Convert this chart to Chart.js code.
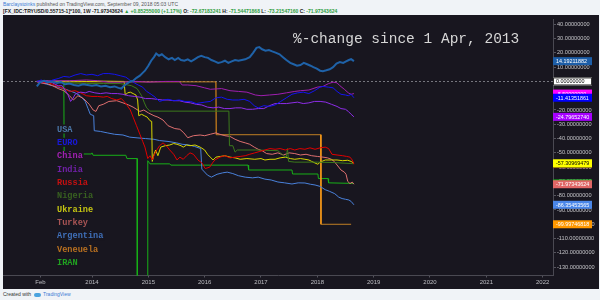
<!DOCTYPE html>
<html><head><meta charset="utf-8">
<script src="https://cdn.jsdelivr.net/npm/chart.js@4/dist/chart.umd.min.js"></script>
<style>
html,body{margin:0;padding:0;background:#f0f3f7;width:600px;height:300px;overflow:hidden;font-family:"Liberation Sans",Arial,sans-serif;}
.t{position:absolute;left:3px;white-space:nowrap;font-size:5px;line-height:6px;}
#h1{top:1px;color:#555;}
#h1 b{color:#3a7bd5;font-weight:normal;}
#h2{top:8px;color:#222;font-weight:bold;}
#h2 .g{color:#2e9e3e;}
#wrap{position:absolute;left:3px;top:15px;width:596px;height:274px;background:#18161f;}
#foot{top:291px;color:#333;}
#foot .l{display:inline-block;width:7px;height:4px;background:#4aa3df;border-radius:2px;margin:0 2px 0 3px;vertical-align:middle;}
#foot .b{color:#3a7bd5;}
</style></head>
<body>
<div id="h1" class="t"><b>Barclaystoinks</b> published on TradingView.com, September 09, 2018 05:03 UTC</div>
<div id="h2" class="t">[FX_IDC:TRYUSD/0.55715-1]*100, 1W -71.97343624 <span class="g">▲ +0.85255000 (+1.17%)</span> O: <span class="g">-72.67183241</span> H: <span class="g">-71.54471868</span> L: <span class="g">-73.21547160</span> C: <span class="g">-71.97343624</span></div>
<div id="wrap"><canvas id="c" width="596" height="274"></canvas></div>
<div id="foot" class="t">Created with<span class="l"></span><span class="b">TradingView</span></div>
<script>
// ---- data (x = decimal year, y = % change) ----
const titleText = "%-change since 1 Apr, 2013";
const seriesNames = ["USA","EURO","China","India","Russia","Nigeria","Ukraine","Turkey","Argentina","Veneuela","IRAN"];
const xTickValues = [2013.085,2014,2015,2016,2017,2018,2019,2020,2021,2022];
const xTickLabels = ["Feb","2014","2015","2016","2017","2018","2019","2020","2021","2022"];
const yTickValues = [40,30,20,10,0,-10,-20,-30,-40,-50,-60,-70,-80,-90,-100,-110,-120,-130];

const usa = [[2013.02,-3.4],[2013.08,-0.5],[2013.15,0.5],[2013.22,-0.5],[2013.3,0],[2013.38,-1],[2013.45,-0.5],[2013.52,-2],[2013.6,-1.5],[2013.68,-2.5],[2013.76,-3],[2013.84,-2],[2013.92,-2.5],[2014.0,-3],[2014.08,-2.5],[2014.16,-3.5],[2014.24,-3],[2014.32,-4],[2014.4,-3.5],[2014.47,-4.5],[2014.52,-5],[2014.57,-3],[2014.62,-1.5],[2014.68,0],[2014.73,0.5],[2014.79,2.5],[2014.85,4],[2014.9,6],[2014.94,7.5],[2015.0,11],[2015.05,14.5],[2015.1,17],[2015.14,19.5],[2015.19,18],[2015.24,19],[2015.3,17],[2015.36,15.5],[2015.42,16.5],[2015.47,15],[2015.53,16.5],[2015.58,15],[2015.64,14.5],[2015.7,15.5],[2015.76,14],[2015.82,15.5],[2015.88,17],[2015.94,18],[2016.0,17],[2016.06,16.5],[2016.12,15],[2016.18,14],[2016.24,13],[2016.3,13.5],[2016.36,14.5],[2016.42,13],[2016.48,14],[2016.54,15],[2016.6,14.5],[2016.66,15],[2016.72,15.5],[2016.8,17],[2016.86,20],[2016.92,23.5],[2016.97,24],[2017.02,22.5],[2017.08,21.5],[2017.14,22],[2017.2,21],[2017.27,20],[2017.33,19],[2017.39,17],[2017.45,15],[2017.52,13],[2017.58,12],[2017.64,11],[2017.7,11.5],[2017.76,13],[2017.82,12],[2017.88,11],[2017.93,10],[2017.99,9],[2018.05,7.5],[2018.1,7.2],[2018.16,7.8],[2018.22,8.5],[2018.28,10],[2018.34,12.5],[2018.4,13.5],[2018.46,13],[2018.51,14],[2018.56,15],[2018.6,15.6],[2018.65,14.19211882]];
const euro = [[2013.02,0],[2013.1,1],[2013.2,-1],[2013.3,1],[2013.4,2],[2013.5,3.5],[2013.6,3],[2013.7,4.5],[2013.8,5.5],[2013.9,4.5],[2014.0,5],[2014.1,4],[2014.2,5.5],[2014.3,5.5],[2014.4,5],[2014.5,4],[2014.6,3],[2014.67,1],[2014.75,-1],[2014.82,-2.5],[2014.9,-4],[2014.97,-7],[2015.05,-9],[2015.12,-11],[2015.2,-14],[2015.28,-13],[2015.35,-12.5],[2015.45,-13.5],[2015.55,-13],[2015.65,-14],[2015.75,-14],[2015.85,-15.5],[2015.92,-15],[2016.0,-14.5],[2016.1,-14],[2016.2,-11.5],[2016.3,-11],[2016.4,-12.5],[2016.5,-13],[2016.6,-13],[2016.7,-12.5],[2016.8,-14],[2016.88,-17],[2016.95,-18.5],[2017.05,-17],[2017.15,-17.5],[2017.25,-16.5],[2017.35,-14],[2017.45,-11.5],[2017.55,-9],[2017.65,-8],[2017.75,-7.5],[2017.85,-8.5],[2017.95,-6.5],[2018.05,-4],[2018.1,-3.5],[2018.2,-4],[2018.28,-4.5],[2018.35,-7],[2018.42,-9],[2018.5,-9.5],[2018.55,-10],[2018.6,-9],[2018.65,-11.41351861]];
const china = [[2013.02,0],[2013.3,0.5],[2013.6,0.5],[2013.9,1],[2014.1,0.5],[2014.3,-0.5],[2014.5,-0.5],[2014.8,0],[2015.0,-0.5],[2015.3,0],[2015.55,0],[2015.6,-2.5],[2015.7,-2.5],[2015.85,-3],[2016.0,-4.5],[2016.1,-5.5],[2016.3,-5],[2016.45,-6.5],[2016.6,-7],[2016.75,-7.5],[2016.9,-9.5],[2017.0,-10],[2017.15,-9.5],[2017.3,-9],[2017.45,-8],[2017.6,-7],[2017.7,-6.5],[2017.85,-6],[2018.0,-4],[2018.1,-3.5],[2018.2,-1.5],[2018.28,-0.5],[2018.35,-1],[2018.4,-3],[2018.48,-5.5],[2018.55,-8],[2018.6,-9],[2018.65,-8.5]];
const india = [[2013.02,0],[2013.1,-0.5],[2013.2,0.5],[2013.3,-1],[2013.4,-3],[2013.47,-3],[2013.52,-6],[2013.57,-9],[2013.62,-14],[2013.66,-12],[2013.7,-9],[2013.75,-8],[2013.8,-7.5],[2013.88,-8],[2013.95,-7],[2014.05,-8],[2014.15,-8.5],[2014.25,-8],[2014.35,-8.5],[2014.45,-8.5],[2014.55,-9],[2014.65,-10],[2014.75,-10.5],[2014.85,-11],[2014.95,-12],[2015.05,-12],[2015.15,-12.5],[2015.25,-13],[2015.35,-13],[2015.45,-13.5],[2015.55,-13.5],[2015.65,-14.5],[2015.75,-15],[2015.85,-16],[2015.95,-16.5],[2016.05,-18],[2016.15,-18.5],[2016.25,-18],[2016.35,-19],[2016.45,-19],[2016.55,-18.5],[2016.65,-18.5],[2016.75,-19.5],[2016.85,-19.5],[2016.95,-19],[2017.05,-19],[2017.15,-17],[2017.25,-15.5],[2017.35,-15.5],[2017.45,-15.5],[2017.55,-15],[2017.65,-14.5],[2017.75,-15.5],[2017.85,-15],[2017.95,-14],[2018.05,-14],[2018.15,-14.5],[2018.25,-16],[2018.35,-17.5],[2018.42,-19],[2018.5,-19.5],[2018.55,-21],[2018.6,-23],[2018.65,-24.7965274]];
const russia = [[2013.02,0],[2013.1,-1],[2013.2,-0.5],[2013.3,-2],[2013.4,-3.5],[2013.5,-5],[2013.6,-7],[2013.7,-6.5],[2013.8,-8],[2013.9,-10],[2014.0,-10.5],[2014.1,-10.5],[2014.2,-11],[2014.27,-10.5],[2014.35,-12],[2014.44,-13],[2014.52,-12],[2014.57,-14],[2014.62,-16.6],[2014.68,-20],[2014.73,-25],[2014.79,-31],[2014.85,-37],[2014.9,-42],[2014.94,-46],[2014.99,-54],[2015.03,-52],[2015.07,-55],[2015.11,-51],[2015.15,-48],[2015.2,-45],[2015.26,-43],[2015.32,-45],[2015.38,-48],[2015.45,-51],[2015.51,-55],[2015.56,-53],[2015.62,-54.5],[2015.68,-52],[2015.74,-50],[2015.8,-51],[2015.88,-55],[2015.95,-57],[2016.01,-61],[2016.09,-60],[2016.14,-57],[2016.18,-55],[2016.27,-53],[2016.36,-52],[2016.45,-53.5],[2016.54,-53],[2016.63,-52.5],[2016.72,-52],[2016.8,-51],[2016.89,-50],[2016.98,-49],[2017.07,-48],[2017.16,-47],[2017.25,-47.5],[2017.34,-47],[2017.43,-48],[2017.52,-47],[2017.6,-48],[2017.69,-47],[2017.78,-47.5],[2017.87,-46.5],[2017.96,-47.5],[2018.05,-46.5],[2018.14,-46],[2018.2,-47],[2018.26,-51],[2018.35,-51.5],[2018.45,-52],[2018.52,-52.5],[2018.58,-53],[2018.62,-55],[2018.65,-57.9]];
const nigeria = [[2013.02,0],[2013.3,-0.5],[2013.6,-1],[2013.9,-1.5],[2014.2,-1.5],[2014.5,-1.5],[2014.7,-3],[2014.8,-5],[2014.88,-10],[2014.93,-15],[2014.97,-18.5],[2015.03,-20.8],[2016.43,-20.8],[2016.44,-45],[2016.5,-45],[2016.54,-49.5],[2016.58,-48],[2016.9,-48],[2017.3,-48.5],[2017.4,-52],[2017.45,-53],[2017.47,-47],[2017.49,-56],[2017.6,-56.5],[2018.0,-56.5],[2018.3,-56.8],[2018.65,-57.6]];
const ukraine = [[2013.02,0],[2013.3,0],[2013.6,0.3],[2013.9,0],[2014.2,0.2],[2014.57,0],[2014.59,-9.6],[2014.63,-8],[2014.68,-7.5],[2014.73,-8.5],[2014.78,-9.5],[2014.81,-13],[2014.83,-24],[2014.88,-23],[2014.93,-24],[2014.98,-25],[2015.03,-27.5],[2015.06,-28],[2015.07,-56],[2015.1,-51],[2015.13,-48],[2015.17,-52],[2015.22,-46],[2015.3,-45],[2015.38,-44.5],[2015.45,-43.5],[2015.51,-44],[2015.58,-45],[2015.62,-46],[2015.68,-44.5],[2015.74,-45],[2015.83,-44.5],[2015.92,-46],[2016.0,-48],[2016.05,-51],[2016.1,-53],[2016.15,-55],[2016.2,-53],[2016.28,-52.5],[2016.36,-52],[2016.45,-53],[2016.54,-53.5],[2016.63,-54.5],[2016.75,-54],[2016.89,-54.5],[2017.0,-54],[2017.07,-55],[2017.16,-54.5],[2017.25,-54.5],[2017.34,-53.5],[2017.43,-53],[2017.52,-54],[2017.6,-54.5],[2017.7,-54],[2017.78,-54.5],[2017.85,-55],[2017.9,-56],[2018.01,-58],[2018.05,-56.5],[2018.08,-56],[2018.14,-55],[2018.25,-55],[2018.35,-55],[2018.45,-55.5],[2018.54,-55.2],[2018.6,-56],[2018.65,-57.30969479]];
const turkey = [[2013.02,0],[2013.1,-1],[2013.2,-1.5],[2013.3,-3],[2013.4,-5],[2013.5,-6.5],[2013.6,-10],[2013.67,-13],[2013.75,-10],[2013.85,-12],[2013.95,-16],[2014.02,-20],[2014.07,-21],[2014.12,-17],[2014.2,-16],[2014.3,-14],[2014.44,-13.5],[2014.55,-15],[2014.65,-16.5],[2014.73,-18],[2014.85,-21],[2014.92,-20],[2015.0,-22],[2015.1,-24],[2015.17,-25],[2015.26,-27],[2015.35,-31],[2015.47,-33],[2015.56,-33.5],[2015.63,-36],[2015.7,-39.4],[2015.8,-38],[2015.92,-37.5],[2016.0,-38],[2016.1,-37],[2016.2,-36],[2016.27,-37],[2016.36,-38],[2016.45,-38.5],[2016.54,-40.5],[2016.63,-42],[2016.72,-43],[2016.8,-44],[2016.88,-46],[2016.95,-47.5],[2017.02,-48.5],[2017.1,-50.5],[2017.2,-51],[2017.3,-50],[2017.4,-51.5],[2017.5,-50],[2017.6,-50.5],[2017.7,-51.5],[2017.8,-51],[2017.9,-52],[2018.0,-52.5],[2018.1,-53],[2018.18,-53.5],[2018.25,-54.5],[2018.3,-56],[2018.35,-58.5],[2018.42,-62],[2018.48,-63.5],[2018.51,-65],[2018.54,-70],[2018.58,-71.5],[2018.62,-70.5],[2018.65,-71.97343624]];
const argentina = [[2013.02,0],[2013.1,-1],[2013.2,-2],[2013.3,-3],[2013.4,-4],[2013.5,-5],[2013.6,-6.5],[2013.7,-8],[2013.79,-10],[2013.88,-14],[2013.93,-19],[2013.97,-23],[2014.03,-24],[2014.04,-34.5],[2014.15,-35],[2014.27,-36],[2014.4,-37],[2014.55,-37.5],[2014.67,-39],[2014.8,-39.5],[2014.95,-40],[2015.1,-40.5],[2015.2,-41.4],[2015.35,-42],[2015.5,-43],[2015.6,-44],[2015.72,-44.5],[2015.82,-45.5],[2015.93,-47],[2015.95,-61.4],[2016.05,-65.6],[2016.12,-67],[2016.22,-65],[2016.32,-64],[2016.4,-63.5],[2016.5,-64.5],[2016.6,-66],[2016.72,-67],[2016.85,-67.5],[2016.95,-67],[2017.07,-68.4],[2017.18,-69],[2017.3,-70.4],[2017.42,-71],[2017.55,-71.8],[2017.66,-71],[2017.78,-71.1],[2017.88,-72],[2017.96,-72.5],[2018.05,-73.5],[2018.14,-75.8],[2018.22,-77],[2018.31,-78.6],[2018.38,-81],[2018.44,-82],[2018.5,-82.5],[2018.56,-83],[2018.6,-84],[2018.65,-86.35453565]];
const venezuela = [[2013.02,-0.3],[2016.2,-0.3],[2016.205,-37.3],[2018.06,-37.3],[2018.065,-99.99746818],[2018.6,-99.99746818]];
const iran = [[2013.02,0],[2013.5,0],[2013.505,-50.8],[2013.99,-50.8],[2014.0,-50],[2014.02,-51.7],[2014.6,-51.7],[2014.62,-54],[2014.8,-54],[2014.805,-250],[2014.985,-250],[2014.99,-55.5],[2015.03,-57.7],[2015.38,-57.7],[2015.4,-58.6],[2016.77,-58.6],[2016.78,-62],[2017.55,-62],[2017.56,-64.8],[2018.01,-64.8],[2018.02,-68],[2018.19,-68],[2018.2,-71],[2018.65,-71.4]];

const seriesData = [usa, euro, china, india, russia, nigeria, ukraine, turkey, argentina, venezuela, iran];

// ---- styles ----
const BG = '#18161f';
const lineColors = ['#1f62a8','#1414f0','#a01fb0','#8e2de8','#e00000','#3c7a1c','#d8d800','#e07070','#4a82dc','#c07f24','#18b018'];
const legendColors = ['#4b77a8','#1818d8','#a020b0','#7020a8','#c41010','#386020','#c4c412','#a85454','#3f6fb8','#b87020','#20a020'];
const boxColors = ['#1d5ea8','#0000ff','#ff00ff','#a600ff','#e00000','#3c7a1c','#ffff00','#e06666','#4a86e8','#ff9800','#18b018'];
const boxText = ['#fff','#fff','#fff','#fff','#fff','#fff','#000','#fff','#fff','#fff','#fff'];
const boxOrder = [2,4,5,10,0,1,3,6,7,8,9];

const deco = {
  id: 'deco',
  beforeDatasetsDraw(chart) {
    const {ctx, chartArea: a, scales: {y}} = chart;
    const py = Math.round(y.getPixelForValue(0)) + 0.5;
    ctx.save();
    ctx.strokeStyle = '#76767e'; ctx.lineWidth = 1; ctx.setLineDash([2, 2]);
    ctx.beginPath(); ctx.moveTo(a.left, py); ctx.lineTo(a.right, py); ctx.stroke();
    ctx.restore();
  },
  afterDatasetsDraw(chart) {
    const ctx = chart.ctx;
    ctx.save();
    ctx.textBaseline = 'middle'; ctx.textAlign = 'left';
    ctx.font = '14.5px "Liberation Mono", monospace';
    ctx.fillStyle = '#d6d6d6';
    ctx.fillText(titleText, 290, 24.5);
    ctx.font = 'bold 8.6px "Liberation Mono", monospace';
    seriesNames.forEach((n, i) => {
      const y = 114 + i * 13.33;
      const w = ctx.measureText(n).width;
      ctx.fillStyle = BG; ctx.fillRect(53, y - 4.5, w + 2, 9);
      ctx.fillStyle = legendColors[i]; ctx.fillText(n, 54, y + 0.5);
    });
    ctx.restore();
  },
  afterDraw(chart) {
    const {ctx, chartArea: a, scales: {y}} = chart;
    ctx.save();
    ctx.font = '5.4px "Liberation Sans", Arial, sans-serif';
    ctx.textBaseline = 'middle'; ctx.textAlign = 'left';
    const drawBox = (v, fill, txt, stroke) => {
      const py = y.getPixelForValue(v);
      ctx.fillStyle = fill; ctx.fillRect(a.right, py - 4, 39, 8);
      if (stroke) { ctx.strokeStyle = stroke; ctx.lineWidth = 1; ctx.strokeRect(a.right + 0.5, py - 3.5, 38, 7); }
      ctx.fillStyle = txt; ctx.fillText(v.toFixed(8), a.right + 3, py + 0.5);
    };
    drawBox(0, '#ffffff', '#000', '#333');
    boxOrder.forEach(i => {
      const d = seriesData[i];
      drawBox(d[d.length - 1][1], boxColors[i], boxText[i]);
    });
    ctx.restore();
  }
};

const datasets = seriesData.map((d, i) => ({
  label: seriesNames[i],
  data: d.map(p => ({x: p[0], y: p[1]})),
  borderColor: lineColors[i],
  borderWidth: i === 0 ? 2 : 1,
  pointRadius: 0,
  tension: 0,
  fill: false,
  segment: i === 9 ? {borderColor: c => Math.abs(c.p1.parsed.x - c.p0.parsed.x) < 0.02 ? '#f79a1a' : '#c07f24'} : undefined
}));

new Chart(document.getElementById('c'), {
  type: 'line',
  data: {datasets},
  plugins: [deco],
  options: {
    responsive: false, animation: false, devicePixelRatio: 1,
    layout: {padding: 0},
    plugins: {legend: {display: false}, tooltip: {enabled: false}, title: {display: false}},
    scales: {
      x: {
        type: 'linear', position: 'bottom', min: 2012.42, max: 2022.184,
        afterBuildTicks: s => { s.ticks = xTickValues.map(v => ({value: v})); },
        afterFit: s => { s.height = 13.5; },
        grid: {drawOnChartArea: false, drawTicks: true, tickLength: 2, color: '#55545e'},
        border: {display: true, color: '#4a4952'},
        ticks: {autoSkip: false, maxRotation: 0, padding: 1, color: '#bdbdc2', font: {size: 6, family: '"Liberation Sans", Arial'}, callback: (v, i) => xTickLabels[i]}
      },
      y: {
        type: 'linear', position: 'right', min: -135.86, max: 43.45,
        afterBuildTicks: s => { s.ticks = yTickValues.map(v => ({value: v})); },
        afterFit: s => { s.width = 46; },
        grid: {drawOnChartArea: false, drawTicks: true, tickLength: 3, color: '#55545e'},
        border: {display: true, color: '#4a4952'},
        ticks: {padding: 1, color: '#c4c4c8', font: {size: 5.6, family: '"Liberation Sans", Arial'}, callback: v => Number(v).toFixed(8)}
      }
    }
  }
});
</script>
</body></html>
